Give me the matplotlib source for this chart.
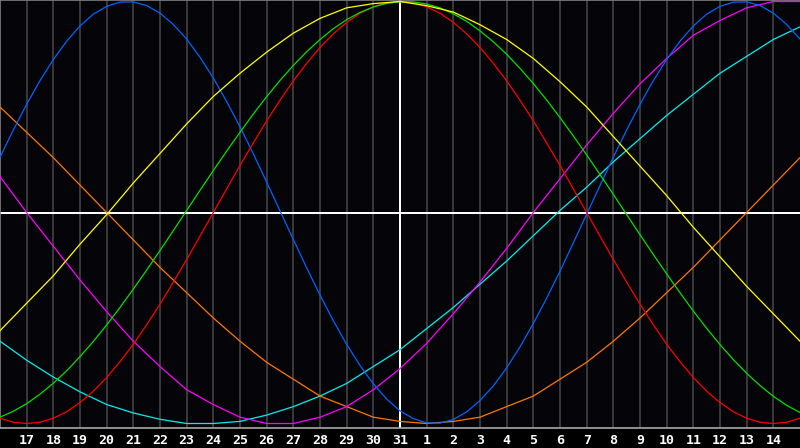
import matplotlib
matplotlib.use("Agg")
import matplotlib.pyplot as plt
import numpy as np

# day labels along the bottom (index 0 = 16th, index 30 = 15th of next month)
day_labels = [17, 18, 19, 20, 21, 22, 23, 24, 25, 26, 27, 28, 29, 30, 31,
              1, 2, 3, 4, 5, 6, 7, 8, 9, 10, 11, 12, 13, 14]
today_idx = 15

# fast curves, read every half day (index 0..60)
blue = [0.262, 0.391, 0.513, 0.625, 0.725, 0.812, 0.884, 0.940, 0.977, 0.997,
        0.998, 0.981, 0.945, 0.891, 0.822, 0.736, 0.637, 0.526, 0.406, 0.278,
        0.144, 0.008, -0.128, -0.262, -0.391, -0.513, -0.625, -0.725, -0.812,
        -0.884, -0.940, -0.977, -0.997, -0.998, -0.981, -0.945, -0.891, -0.822,
        -0.736, -0.637, -0.526, -0.406, -0.278, -0.144, -0.008, 0.128, 0.262,
        0.391, 0.513, 0.625, 0.725, 0.812, 0.884, 0.940, 0.977, 0.997, 0.998,
        0.981, 0.945, 0.891, 0.822]
red = [-0.975, -0.994, -1.000, -0.994, -0.975, -0.944, -0.901, -0.847, -0.782,
       -0.707, -0.624, -0.532, -0.434, -0.330, -0.223, -0.112, 0.000, 0.112,
       0.223, 0.330, 0.434, 0.532, 0.624, 0.707, 0.782, 0.847, 0.901, 0.944,
       0.975, 0.994, 1.000, 0.994, 0.975, 0.944, 0.901, 0.847, 0.782, 0.707,
       0.624, 0.532, 0.434, 0.330, 0.223, 0.112, 0.000, -0.112, -0.223,
       -0.330, -0.434, -0.532, -0.624, -0.707, -0.782, -0.847, -0.901,
       -0.944, -0.975, -0.994, -1.000, -0.994, -0.975]
green = [-0.970, -0.942, -0.906, -0.861, -0.809, -0.750, -0.683, -0.611,
         -0.533, -0.450, -0.363, -0.273, -0.180, -0.086, 0.010, 0.105, 0.199,
         0.291, 0.380, 0.467, 0.549, 0.626, 0.697, 0.762, 0.820, 0.871, 0.914,
         0.948, 0.974, 0.991, 0.999, 0.998, 0.988, 0.970, 0.942, 0.906, 0.861,
         0.809, 0.750, 0.683, 0.611, 0.533, 0.450, 0.363, 0.273, 0.180, 0.086,
         -0.010, -0.105, -0.199, -0.291, -0.380, -0.467, -0.549, -0.626,
         -0.697, -0.762, -0.820, -0.871, -0.914, -0.948]

# slower curves, read per day (index 0..30)
yellow = [-0.56, -0.43, -0.30, -0.15, -0.01, 0.14, 0.28, 0.42, 0.55, 0.66,
          0.76, 0.85, 0.92, 0.97, 0.99, 1.00, 0.98, 0.95, 0.89, 0.82, 0.73,
          0.62, 0.50, 0.36, 0.22, 0.08, -0.07, -0.21, -0.35, -0.48, -0.61]
magenta = [0.17, 0.00, -0.16, -0.32, -0.47, -0.61, -0.73, -0.84, -0.91,
           -0.97, -1.00, -1.00, -0.97, -0.92, -0.84, -0.74, -0.62, -0.48,
           -0.33, -0.17, 0.00, 0.16, 0.32, 0.47, 0.61, 0.73, 0.84, 0.91,
           0.97, 1.00, 1.00]
orange = [0.50, 0.38, 0.26, 0.13, 0.00, -0.13, -0.26, -0.38, -0.50, -0.61,
          -0.71, -0.79, -0.87, -0.92, -0.97, -0.99, -1.00, -0.99, -0.97,
          -0.92, -0.87, -0.79, -0.71, -0.61, -0.50, -0.38, -0.26, -0.13,
          0.00, 0.13, 0.26]
cyan = [-0.61, -0.70, -0.78, -0.85, -0.91, -0.95, -0.98, -1.00, -1.00,
        -0.99, -0.96, -0.92, -0.87, -0.81, -0.73, -0.65, -0.55, -0.45,
        -0.34, -0.23, -0.11, 0.01, 0.12, 0.24, 0.35, 0.46, 0.56, 0.66,
        0.74, 0.82, 0.88]

bg = '#050509'
fig = plt.figure(figsize=(8, 4.48), dpi=100, facecolor='black')
ax = fig.add_axes([0, 20 / 448, 1, 428 / 448])
ax.set_facecolor(bg)

# grid
for i in range(1, 30):
    if i != today_idx:
        ax.axvline(i, color='#38383c', lw=1.2, antialiased=False, zorder=1)
ax.axvline(today_idx, color='white', lw=1.2, antialiased=False, zorder=2)
ax.axhline(0, color='white', lw=1.2, antialiased=False, zorder=2)

# curves
series = [(cyan, '#00f0f0'), (orange, '#ff7800'), (magenta, '#ff00ff'),
          (blue, '#0064ff'), (red, '#ff0000'), (green, '#00e000'),
          (yellow, '#ffff00')]
for vals, col in series:
    x = np.linspace(0, 30, len(vals))
    ax.plot(x, vals, color=col, lw=0.9, zorder=3)

ax.set_xlim(0, 30)
ax.set_ylim(-1.0213, 1.0071)
ax.set_yticks([])
ax.set_xticks(range(1, 30))
ax.set_xticklabels([str(d) for d in day_labels], color='white',
                   fontsize=9.5, fontweight='bold', family='DejaVu Sans Mono')
ax.tick_params(axis='x', length=0, pad=4)

for s in ['top', 'left']:
    ax.spines[s].set_color('#808080')
    ax.spines[s].set_linewidth(1.2)
ax.spines['bottom'].set_color('#a8a8a8')
ax.spines['bottom'].set_linewidth(1.2)
ax.spines['right'].set_visible(False)

fig.savefig('out.png', dpi=100, facecolor='black')
